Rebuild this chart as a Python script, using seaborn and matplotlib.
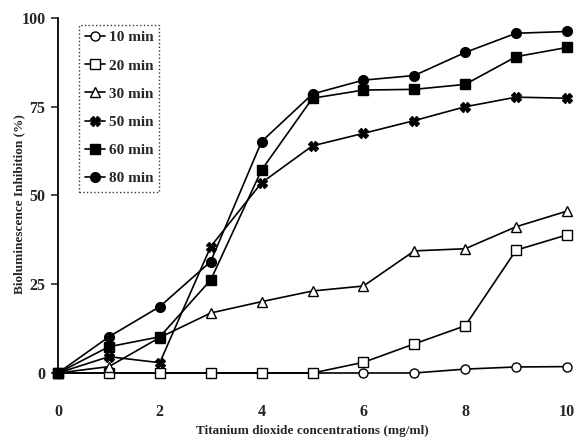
import matplotlib
matplotlib.use("Agg")
import matplotlib.pyplot as plt
import seaborn as sns
import pandas as pd

sns.set_theme(style="white")
plt.rcParams['font.family'] = ['Liberation Serif', 'DejaVu Serif']

conc = [0, 1, 2, 3, 4, 5, 6, 7, 8, 9, 10]
labels = ["10 min", "20 min", "30 min", "50 min", "60 min", "80 min"]
v10 = [0, 0, 0, 0, 0, 0, 0, 0, 1.1, 1.7, 1.8]
v20 = [0, 0, 0, 0, 0, 0, 3, 8.2, 13.3, 34.6, 38.9]
v30 = [0, 1.8, 10, 16.9, 20.1, 23.1, 24.5, 34.4, 35, 41.2, 45.6]
v50 = [0, 4.6, 2.9, 35.6, 53.6, 64, 67.5, 71.1, 75, 77.7, 77.4]
v60 = [0, 7.4, 10.2, 26.2, 57.2, 77.4, 79.7, 79.9, 81.3, 89.1, 91.7]
v80 = [0, 10.2, 18.7, 31.4, 65.2, 78.6, 82.5, 83.8, 90.3, 95.7, 96.2]
series = [v10, v20, v30, v50, v60, v80]

styles = [
    dict(marker='o', mfc='white', ms=6.5),
    dict(marker='s', mfc='white', ms=6.5),
    dict(marker='^', mfc='white', ms=7),
    dict(marker='X', mfc='black', ms=7),
    dict(marker='s', mfc='black', ms=6.5),
    dict(marker='o', mfc='black', ms=7),
]

fig = plt.figure(figsize=(5.77, 4.41), dpi=100)
ax = fig.add_axes([58/577, 1-373/441, 509/577, 355/441])

for lab, vals, st in zip(labels, series, styles):
    df = pd.DataFrame({"x": conc, "y": vals})
    sns.lineplot(data=df, x="x", y="y", ax=ax, color='black', lw=1.2,
                 marker=st['marker'], markerfacecolor=st['mfc'],
                 markeredgecolor='black', markeredgewidth=1.0,
                 markersize=st['ms'], label=lab, clip_on=False, zorder=3)

ax.set_xlim(0, 10)
ax.set_ylim(0, 100)
ax.set_xticks([0, 2, 4, 6, 8, 10])
ax.set_yticks([0, 25, 50, 75, 100])
for s in ['top', 'right', 'bottom']:
    ax.spines[s].set_visible(False)
ax.spines['left'].set_color('black')
ax.spines['left'].set_linewidth(1.3)
ax.tick_params(axis='y', left=True, direction='out', length=5, width=1.2,
               labelsize=11.5, pad=4)
ax.tick_params(axis='x', bottom=False, labelsize=11.5, pad=16)
for t in ax.get_xticklabels() + ax.get_yticklabels():
    t.set_fontweight('bold')

ax.set_xlabel("Titanium dioxide concentrations (mg/ml)", fontsize=9.5,
              fontweight='bold', va='center')
ax.xaxis.set_label_coords(0.499, -0.163)
ax.set_ylabel("Bioluminescence Inhibition (%)", fontsize=9.5,
              fontweight='bold', va='center')
ax.yaxis.set_label_coords(-0.077, 0.476)

leg = ax.legend(loc='upper left', bbox_to_anchor=(0.035, 0.99), fontsize=11,
                frameon=True, fancybox=False, handlelength=1.3,
                handletextpad=0.25, labelspacing=0.95, borderpad=0.4,
                borderaxespad=0.2)
leg.get_frame().set_edgecolor('black')
leg.get_frame().set_linestyle(':')
leg.get_frame().set_linewidth(1.0)
for t in leg.get_texts():
    t.set_fontweight('bold')

fig.savefig("out.png", dpi=100)
